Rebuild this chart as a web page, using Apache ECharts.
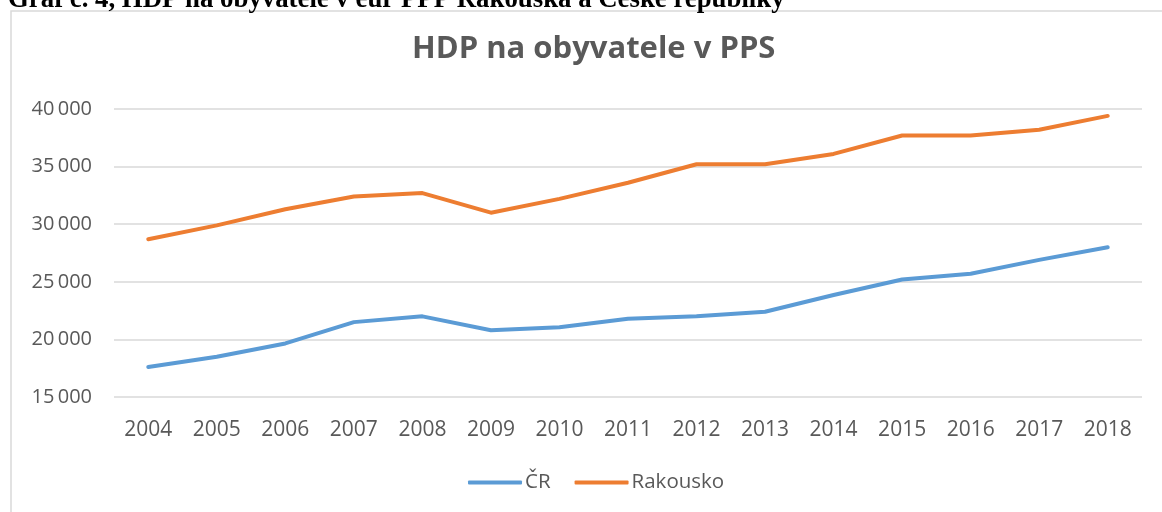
<!DOCTYPE html>
<html>
<head>
<meta charset="utf-8">
<script src="https://cdn.jsdelivr.net/npm/echarts@6/dist/echarts.min.js"></script>
<style>
html,body{margin:0;padding:0;background:#fff;}
#chart{width:1162px;height:512px;}
</style>
</head>
<body>
<div id="chart"></div>
<script>
const years = ['2004','2005','2006','2007','2008','2009','2010','2011','2012','2013','2014','2015','2016','2017','2018'];
const cr = [17600,18500,19650,21500,22000,20800,21050,21800,22000,22400,23850,25200,25700,26900,28000];
const rakousko = [28700,29900,31300,32400,32700,31000,32200,33600,35200,35200,36100,37700,37700,38200,39400];
const seriesNames = ['ČR','Rakousko'];
const chartTitle = 'HDP na obyvatele v PPS';
const caption = 'Graf č. 4, HDP na obyvatele v eur PPP Rakouska a České republiky';

const chart = echarts.init(document.getElementById('chart'));
const font = '"Open Sans", sans-serif';
chart.setOption({
  animation: false,
  backgroundColor: '#fff',
  title: {
    text: chartTitle,
    left: 407,
    top: 29,
    textStyle: {fontFamily: font, fontWeight: 'bold', fontSize: 31, color: '#595959'}
  },
  graphic: [
    {type: 'rect', shape: {x: 11, y: 11, width: 1170, height: 520},
     style: {fill: 'none', stroke: '#d9d9d9', lineWidth: 1.5}, silent: true},
    {type: 'text', left: 8, top: -13,
     style: {text: caption, font: 'bold 26.8px "Liberation Serif", serif', fill: '#000'}}
  ],
  legend: {
    bottom: 14,
    left: 463,
    itemWidth: 54,
    itemHeight: 4,
    itemGap: 24,
    icon: 'roundRect',
    textStyle: {fontFamily: font, fontSize: 20.5, color: '#595959', padding: [0,0,0,-2]},
    data: seriesNames
  },
  grid: {left: 114, right: 20, top: 109, bottom: 115},
  xAxis: {
    type: 'category',
    data: years,
    boundaryGap: true,
    axisLine: {show: false},
    axisTick: {show: false},
    axisLabel: {fontFamily: font, fontSize: 21, color: '#595959', margin: 23}
  },
  yAxis: {
    type: 'value',
    min: 15000,
    max: 40000,
    interval: 5000,
    axisLine: {show: false},
    axisTick: {show: false},
    splitLine: {lineStyle: {color: '#d9d9d9', width: 1.5}},
    axisLabel: {fontFamily: font, fontSize: 20, color: '#595959', margin: 22,
      formatter: v => String(v).replace(/\B(?=(\d{3})+(?!\d))/g, '\u2009')}
  },
  series: [
    {name: seriesNames[0], type: 'line', data: cr, showSymbol: false, symbol: 'none',
     lineStyle: {color: '#5B9BD5', width: 4, cap: 'round', join: 'round'}, itemStyle: {color: '#5B9BD5'}},
    {name: seriesNames[1], type: 'line', data: rakousko, showSymbol: false, symbol: 'none',
     lineStyle: {color: '#ED7D31', width: 4, cap: 'round', join: 'round'}, itemStyle: {color: '#ED7D31'}}
  ]
});
</script>
</body>
</html>
